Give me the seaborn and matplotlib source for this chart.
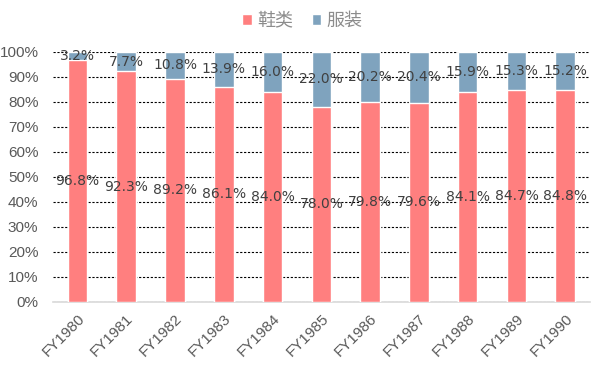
import numpy as np
import pandas as pd
import matplotlib
matplotlib.use("Agg")
import matplotlib.pyplot as plt
import seaborn as sns
from matplotlib.patches import Patch
from matplotlib.ticker import MultipleLocator, PercentFormatter

# Share of footwear vs apparel, FY1980-FY1990
years = ["FY1980", "FY1981", "FY1982", "FY1983", "FY1984", "FY1985",
         "FY1986", "FY1987", "FY1988", "FY1989", "FY1990"]
shoes = [96.8, 92.3, 89.2, 86.1, 84.0, 78.0, 79.8, 79.6, 84.1, 84.7, 84.8]
apparel = [3.2, 7.7, 10.8, 13.9, 16.0, 22.0, 20.2, 20.4, 15.9, 15.3, 15.2]
series_names = ["鞋类", "服装"]

PINK = "#FF7F7F"
BLUE = "#7FA3BE"

sns.set_theme(style="white")
plt.rcParams['font.family'] = ['Liberation Sans', 'Noto Sans CJK SC', 'DejaVu Sans']

df = pd.DataFrame({"year": years, "shoes": shoes, "apparel": apparel})
df["total"] = df["shoes"] + df["apparel"]

fig = plt.figure(figsize=(6.05, 3.76), dpi=100)
ax = fig.add_axes([0.0876, 0.197, 0.887, 0.665])

# stacked: draw the total in blue, then the footwear part over it
sns.barplot(data=df, x="year", y="total", color=BLUE, width=0.4,
            saturation=1, ax=ax, zorder=3)
sns.barplot(data=df, x="year", y="shoes", color=PINK, width=0.4,
            saturation=1, ax=ax, zorder=3)

for i, (s, a) in enumerate(zip(shoes, apparel)):
    ax.text(i, s / 2, f"{s:.1f}%", ha="center", va="center",
            fontsize=10, color="#404040", family="DejaVu Sans", zorder=5)
    ax.text(i, s + a / 2, f"{a:.1f}%", ha="center", va="center",
            fontsize=10, color="#404040", family="DejaVu Sans", zorder=5)

ax.set_xlim(-0.5, len(years) - 0.5)
ax.set_ylim(0, 100)
ax.yaxis.set_major_locator(MultipleLocator(10))
ax.yaxis.set_major_formatter(PercentFormatter(decimals=0))
ax.grid(axis="y", color="black", linestyle=(0, (2, 1.5)), linewidth=0.8, zorder=0)
ax.set_xlabel("")
ax.set_ylabel("")

for side in ["top", "right", "left"]:
    ax.spines[side].set_visible(False)
ax.spines["bottom"].set_color("#D9D9D9")
ax.spines["bottom"].set_linewidth(1.2)

ax.tick_params(axis="both", length=0, colors="#595959", labelsize=11)
ax.tick_params(axis="y", pad=10.5)
ax.tick_params(axis="x", pad=7)
plt.setp(ax.get_xticklabels(), rotation=45, ha="right", rotation_mode="anchor")

handles = [Patch(facecolor=PINK, label=series_names[0]),
           Patch(facecolor=BLUE, label=series_names[1])]
leg = fig.legend(handles=handles, loc="center", bbox_to_anchor=(0.5, 0.945),
                 ncol=2, frameon=False, handlelength=0.55, handleheight=0.55,
                 handletextpad=0.3, columnspacing=1.0,
                 prop={"family": ["Noto Sans CJK SC"], "size": 13})
for t in leg.get_texts():
    t.set_color("#8C8C8C")

fig.savefig("out.png", dpi=100)
